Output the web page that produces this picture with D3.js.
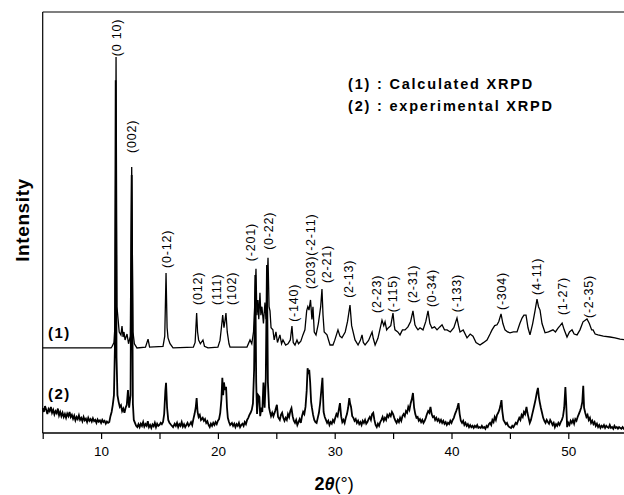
<!DOCTYPE html>
<html><head><meta charset="utf-8">
<script src="https://cdn.jsdelivr.net/npm/d3@7"></script>
<style>
html,body{margin:0;padding:0;background:#fff;}
svg{display:block;font-family:"Liberation Sans",Arial,sans-serif;}
</style></head>
<body>
<svg id="c" width="624" height="495"></svg>
<script>
// ---- data ----
const xTicks = [10, 20, 30, 40, 50];
const xMinor = [5, 15, 25, 35, 45, 55];

// calculated pattern (1): [2theta, intensity a.u.]
const calcPattern = [
[5.0,202],[10.85,202],[10.95,206],[11.1,215],[11.2,260],[11.28,893],[11.36,300],[11.45,271],[11.55,240],[11.7,233],[11.79,254],[11.88,228],[11.96,240],[12.05,221],[12.22,235],[12.35,212],[12.5,230],[12.62,632],[12.73,240],[12.85,212],[13.07,202],[13.8,204],[14.02,223],[14.15,204],[15.3,206],[15.45,230],[15.56,380],[15.65,250],[15.73,226],[15.9,212],[16.16,202],[17.9,204],[18.05,215],[18.18,285],[18.26,240],[18.35,221],[18.5,212],[18.72,221],[18.85,206],[19.15,202],[20.0,204],[20.18,220],[20.3,250],[20.41,280],[20.52,250],[20.6,265],[20.69,285],[20.8,240],[20.95,212],[21.04,204],[22.49,204],[22.75,221],[22.9,212],[23.05,240],[23.15,300],[23.26,390],[23.34,280],[23.43,316],[23.5,270],[23.6,333],[23.68,280],[23.77,300],[23.9,260],[24.03,310],[24.12,270],[24.2,340],[24.29,416],[24.38,300],[24.46,290],[24.55,250],[24.71,245],[24.82,221],[24.97,240],[25.1,215],[25.31,233],[25.45,212],[25.57,221],[25.8,209],[26.0,212],[26.2,221],[26.34,254],[26.45,215],[26.6,209],[26.77,221],[26.9,212],[27.1,218],[27.28,233],[27.45,245],[27.6,290],[27.7,300],[27.8,292],[27.93,316],[28.05,270],[28.14,300],[28.25,240],[28.4,233],[28.6,260],[28.8,300],[28.91,342],[29.0,280],[29.1,240],[29.34,233],[29.6,209],[29.85,209],[30.0,220],[30.28,245],[30.45,230],[30.62,226],[30.9,240],[31.1,265],[31.31,304],[31.45,255],[31.74,221],[32.0,209],[32.2,220],[32.34,233],[32.45,215],[32.6,209],[32.9,220],[33.2,240],[33.3,225],[33.46,209],[33.7,225],[34.05,268],[34.2,255],[34.31,264],[34.45,245],[34.56,249],[34.8,255],[34.99,285],[35.1,255],[35.16,245],[35.4,240],[35.59,233],[35.8,245],[36.02,245],[36.27,252],[36.5,265],[36.7,290],[36.87,257],[37.0,250],[37.13,245],[37.3,250],[37.56,245],[37.8,265],[37.99,290],[38.15,260],[38.33,249],[38.55,252],[38.76,245],[39.0,252],[39.19,257],[39.4,245],[39.62,245],[39.9,240],[40.2,250],[40.47,273],[40.6,255],[40.73,240],[41.0,245],[41.33,226],[41.6,235],[41.84,230],[42.1,215],[42.44,209],[42.7,214],[43.04,221],[43.3,235],[43.47,245],[43.7,255],[43.9,257],[44.05,265],[44.24,283],[44.4,260],[44.58,245],[44.8,240],[45.01,238],[45.3,240],[45.61,240],[45.85,260],[46.04,273],[46.2,280],[46.38,280],[46.55,250],[46.72,233],[46.95,260],[47.15,290],[47.32,318],[47.45,300],[47.58,292],[47.75,260],[48.01,238],[48.3,240],[48.69,245],[48.9,240],[49.12,249],[49.3,255],[49.47,261],[49.65,245],[49.89,228],[50.1,240],[50.32,245],[50.5,235],[50.75,233],[51.0,245],[51.26,264],[51.45,268],[51.6,271],[51.8,260],[52.0,245],[52.12,245],[52.3,235],[52.54,233],[53.0,230],[53.57,228],[54.0,226],[54.43,223],[55.0,221]
];

// experimental pattern (2): [2theta, intensity a.u.]
const expPattern = [
[5.0,59],[5.1,50],[5.2,64],[5.3,55],[5.4,45],[5.5,57],[5.6,52],[5.7,62],[5.8,48],[5.9,55],[6.0,44],[6.1,52],[6.2,47],[6.3,58],[6.4,42],[6.5,50],[6.6,40],[6.7,48],[6.8,38],[6.9,45],[7.0,36],[7.1,46],[7.2,40],[7.3,50],[7.4,38],[7.5,43],[7.6,34],[7.7,41],[7.8,30],[7.9,38],[8.0,33],[8.1,42],[8.2,31],[8.3,36],[8.4,28],[8.5,38],[8.6,30],[8.7,34],[8.8,26],[8.9,36],[9.0,29],[9.1,33],[9.2,27],[9.3,35],[9.4,28],[9.5,31],[9.6,24],[9.7,32],[9.8,27],[9.9,30],[10.0,24],[10.1,31],[10.2,26],[10.3,29],[10.4,22],[10.5,27],[10.6,24],[10.7,26],[10.8,40],[10.9,50],[11.0,67],[11.1,90],[11.18,200],[11.25,838],[11.32,180],[11.4,90],[11.5,74],[11.6,62],[11.7,66],[11.8,52],[11.9,58],[12.0,48],[12.1,60],[12.2,67],[12.3,102],[12.4,60],[12.52,90],[12.62,613],[12.72,70],[12.8,31],[12.9,24],[13.0,17],[13.1,14],[13.2,21],[13.3,14],[13.4,22],[13.5,17],[13.6,26],[13.7,15],[13.8,21],[13.9,17],[14.0,28],[14.1,14],[14.2,19],[14.3,12],[14.4,20],[14.5,16],[14.6,24],[14.7,14],[14.8,22],[14.9,17],[15.0,19],[15.1,24],[15.2,21],[15.3,26],[15.4,45],[15.5,100],[15.56,119],[15.65,60],[15.75,31],[15.85,24],[16.0,19],[16.16,14],[16.3,22],[16.4,17],[16.5,24],[16.6,14],[16.7,21],[16.8,17],[16.9,26],[17.0,15],[17.1,21],[17.2,14],[17.3,19],[17.4,24],[17.5,17],[17.6,21],[17.7,26],[17.8,19],[17.9,33],[18.0,45],[18.1,60],[18.18,83],[18.26,50],[18.35,38],[18.45,43],[18.55,31],[18.7,36],[18.8,29],[18.9,33],[19.0,24],[19.1,28],[19.2,19],[19.3,14],[19.4,22],[19.5,17],[19.6,24],[19.7,19],[19.8,26],[19.9,21],[20.0,29],[20.1,33],[20.2,48],[20.3,80],[20.38,131],[20.45,90],[20.52,120],[20.6,102],[20.7,110],[20.78,60],[20.85,36],[20.95,26],[21.05,19],[21.2,24],[21.3,17],[21.4,22],[21.5,14],[21.6,21],[21.7,17],[21.8,24],[21.9,14],[22.0,19],[22.1,22],[22.2,17],[22.3,26],[22.4,21],[22.5,31],[22.6,36],[22.7,43],[22.8,48],[22.9,55],[23.0,70],[23.1,150],[23.2,375],[23.28,120],[23.35,45],[23.45,90],[23.55,86],[23.62,40],[23.72,60],[23.8,50],[23.9,120],[24.0,60],[24.1,130],[24.2,399],[24.28,121],[24.38,60],[24.46,50],[24.55,40],[24.65,48],[24.75,40],[24.9,52],[25.05,67],[25.15,38],[25.3,31],[25.4,43],[25.5,48],[25.6,36],[25.7,29],[25.8,36],[25.9,31],[26.0,45],[26.1,38],[26.2,52],[26.3,59],[26.4,40],[26.5,29],[26.6,24],[26.7,31],[26.8,19],[26.9,26],[27.0,33],[27.1,24],[27.2,40],[27.3,50],[27.4,45],[27.5,62],[27.6,100],[27.68,154],[27.75,140],[27.82,150],[27.9,120],[27.98,74],[28.05,60],[28.15,43],[28.25,31],[28.35,26],[28.45,24],[28.55,36],[28.65,48],[28.75,70],[28.85,100],[28.95,131],[29.05,50],[29.15,38],[29.25,31],[29.35,24],[29.45,29],[29.55,19],[29.65,26],[29.75,22],[29.85,31],[29.95,26],[30.05,36],[30.15,45],[30.25,40],[30.35,55],[30.45,71],[30.55,40],[30.65,26],[30.75,31],[30.85,24],[30.95,36],[31.05,45],[31.15,60],[31.25,83],[31.32,70],[31.4,62],[31.5,40],[31.6,36],[31.7,29],[31.8,33],[31.9,24],[32.0,29],[32.1,21],[32.2,26],[32.3,19],[32.4,29],[32.5,24],[32.6,31],[32.7,22],[32.8,26],[32.9,33],[33.0,38],[33.1,31],[33.2,45],[33.3,48],[33.4,31],[33.5,19],[33.6,14],[33.7,22],[33.8,17],[33.9,26],[34.0,31],[34.1,38],[34.2,29],[34.3,36],[34.4,31],[34.5,43],[34.6,38],[34.7,45],[34.8,40],[34.9,50],[35.0,45],[35.1,36],[35.2,29],[35.3,24],[35.4,31],[35.5,26],[35.6,36],[35.7,29],[35.8,40],[35.9,45],[36.0,40],[36.1,52],[36.2,48],[36.3,62],[36.4,55],[36.5,70],[36.6,80],[36.7,95],[36.8,60],[36.9,45],[37.0,36],[37.1,38],[37.2,29],[37.3,33],[37.4,26],[37.5,31],[37.6,24],[37.7,29],[37.8,36],[37.9,45],[38.0,52],[38.1,48],[38.2,62],[38.3,45],[38.4,38],[38.5,40],[38.6,31],[38.7,36],[38.8,29],[38.9,33],[39.0,26],[39.1,31],[39.2,24],[39.3,29],[39.4,22],[39.5,26],[39.6,19],[39.7,24],[39.8,21],[39.9,29],[40.0,24],[40.1,31],[40.2,36],[40.3,45],[40.4,52],[40.5,60],[40.6,71],[40.7,45],[40.8,29],[40.9,24],[41.0,29],[41.1,19],[41.2,24],[41.3,17],[41.4,21],[41.5,14],[41.6,19],[41.7,14],[41.8,17],[41.9,12],[42.0,17],[42.1,14],[42.2,19],[42.3,12],[42.4,14],[42.5,12],[42.6,17],[42.7,12],[42.8,14],[42.9,10],[43.0,17],[43.1,14],[43.2,21],[43.3,24],[43.4,19],[43.5,31],[43.6,26],[43.7,38],[43.8,31],[43.9,43],[44.0,48],[44.1,55],[44.2,67],[44.28,78],[44.35,52],[44.45,31],[44.55,26],[44.65,21],[44.75,24],[44.85,17],[44.95,14],[45.1,12],[45.2,17],[45.3,14],[45.4,19],[45.5,24],[45.6,21],[45.7,29],[45.8,36],[45.9,31],[46.0,43],[46.1,38],[46.2,50],[46.3,45],[46.42,62],[46.5,48],[46.6,36],[46.7,24],[46.8,31],[46.9,43],[47.0,55],[47.1,67],[47.2,80],[47.3,95],[47.4,107],[47.48,86],[47.55,74],[47.65,60],[47.75,48],[47.85,36],[47.95,29],[48.05,24],[48.15,31],[48.25,26],[48.35,22],[48.45,31],[48.55,26],[48.65,19],[48.75,24],[48.85,14],[48.95,21],[49.05,17],[49.15,24],[49.25,19],[49.35,26],[49.45,31],[49.55,40],[49.65,60],[49.75,109],[49.82,70],[49.9,14],[50.0,24],[50.1,19],[50.2,29],[50.3,24],[50.4,31],[50.5,22],[50.6,33],[50.7,29],[50.8,38],[50.9,45],[51.0,52],[51.1,60],[51.2,74],[51.28,112],[51.35,60],[51.45,48],[51.55,38],[51.65,43],[51.75,31],[51.85,36],[51.95,24],[52.05,29],[52.15,21],[52.25,26],[52.35,17],[52.45,22],[52.55,14],[52.65,19],[52.75,12],[52.85,17],[52.95,14],[53.05,19],[53.15,12],[53.25,17],[53.35,14],[53.45,12],[53.55,19],[53.65,12],[53.75,14],[53.85,10],[53.95,17],[54.05,12],[54.15,14],[54.25,10],[54.35,14],[54.45,12],[54.55,10],[54.65,14],[54.75,10],[54.85,12],[55.0,10]
];

// Miller index labels: text, 2theta, intensity level of label foot
const hklText = ["(0 10)","(002)","(0-12)","(012)","(111)","(102)","(-201)","(0-22)","(-140)","(203)(-2-11)","(2-21)","(2-13)","(2-23)","(-115)","(2-31)","(0-34)","(-133)","(-304)","(4-11)","(1-27)","(-2-35)"];
const hklPos  = [11.28,12.62,15.56,18.25,19.92,21.2,22.75,24.29,26.43,27.89,29.34,31.14,33.62,34.99,36.70,38.33,40.39,44.24,47.32,49.47,51.69];
const hklFoot = [895,665,392,304,304,304,408,435,264,342,356,321,285,287,309,299,287,292,328,280,273];

const legendLines = ["(1) : Calculated XRPD", "(2) : experimental XRPD"];
const curveTags = ["(1)", "(2)"];
const curveTagLevel = [225, 80];

// ---- drawing ----
const svg = d3.select("#c");
const x = d3.scaleLinear().domain([5, 55]).range([42.7, 626.7]);
const y = d3.scaleLinear().domain([0, 1000]).range([433, 12]);

const line = d3.line().x(d => x(d[0])).y(d => y(d[1]));

svg.append("path").datum(calcPattern).attr("d", line)
  .attr("fill", "none").attr("stroke", "#000").attr("stroke-width", 1.3).attr("stroke-linejoin", "miter");
svg.append("path").datum(expPattern).attr("d", line)
  .attr("fill", "none").attr("stroke", "#000").attr("stroke-width", 1.8).attr("stroke-linejoin", "miter");

// frame: top and left
svg.append("line").attr("x1", x(5)).attr("x2", 630).attr("y1", y(1000)).attr("y2", y(1000))
  .attr("stroke", "#000").attr("stroke-width", 1.2);
svg.append("line").attr("x1", x(5)).attr("x2", x(5)).attr("y1", y(1000)).attr("y2", y(0))
  .attr("stroke", "#000").attr("stroke-width", 1.2);

// x axis
const xAxis = d3.axisBottom(x).tickValues(xTicks.concat(xMinor).sort((a,b)=>a-b))
  .tickSize(6).tickSizeOuter(0)
  .tickFormat(d => xTicks.includes(d) ? d : "");
const gx = svg.append("g").attr("transform", `translate(0,${y(0)})`).call(xAxis);
gx.select(".domain").attr("stroke-width", 1.5).attr("d", `M${x(5)},0H630`);
gx.selectAll(".tick line").attr("stroke-width", 1.2);
gx.selectAll(".tick text").attr("font-size", 13.5).attr("font-family", "Liberation Sans, Arial, sans-serif").attr("dy", "1.05em").attr("fill", "#000");

// axis titles
const xt = svg.append("text").attr("x", 334).attr("y", 490).attr("text-anchor", "middle").attr("font-size", 18);
xt.append("tspan").attr("font-weight", "bold").text("2");
xt.append("tspan").attr("font-weight", "bold").attr("font-style", "italic").text("θ");
xt.append("tspan").text("(°)");

svg.append("text").attr("transform", "translate(29,220) rotate(-90)")
  .attr("text-anchor", "middle").attr("font-size", 19).attr("font-weight", "bold")
  .attr("letter-spacing", "0.6px").text("Intensity");

// hkl labels
hklText.forEach((t, i) => {
  svg.append("text")
    .attr("transform", `translate(${x(hklPos[i])},${y(hklFoot[i])}) rotate(-90)`)
    .attr("dy", "0.36em").attr("font-size", 12.5).attr("letter-spacing", "0.8px")
    .text(t);
});

// legend
legendLines.forEach((t, i) => {
  svg.append("text").attr("x", 348).attr("y", 89 + i * 22)
    .attr("font-size", 14.5).attr("font-weight", "bold").attr("letter-spacing", "1.8px").text(t);
});

// curve tags
curveTags.forEach((t, i) => {
  svg.append("text").attr("x", 48).attr("y", y(curveTagLevel[i]))
    .attr("font-size", 15).attr("font-weight", "bold").attr("letter-spacing", "1.5px").text(t);
});
</script>
</body></html>
